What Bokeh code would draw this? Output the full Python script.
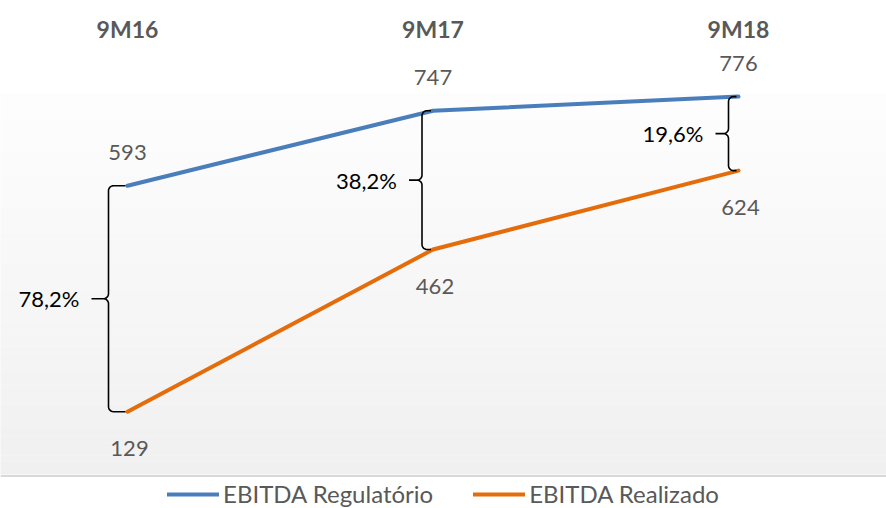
from bokeh.plotting import figure
from bokeh.models import Range1d, Span
from bokeh.embed import file_html
from bokeh.resources import INLINE
from bokeh.core.properties import value
import math

# ---- data ----
categories = ["9M16", "9M17", "9M18"]
ebitda_regulatorio = [593, 747, 776]
ebitda_realizado = [129, 462, 624]
gap_labels = ["78,2%", "38,2%", "19,6%"]
series_names = ["EBITDA Regulatório", "EBITDA Realizado"]

# ---- layout / style ----
W, H = 886, 508
X_PX = 305.5      # pixels per category step
Y_PX = 0.487      # pixels per value unit
ZERO_FIG_Y = 474  # figure-pixel row of value 0
FIRST_X = 127     # figure-pixel column of first category
y_end = ZERO_FIG_Y / Y_PX
y_start = -(H - ZERO_FIG_Y) / Y_PX
x_start = -FIRST_X / X_PX
x_end = x_start + W / X_PX

BLUE = "#4a7ebb"
ORANGE = "#e46c0a"
GREY_TXT = "#595959"
FONT = value("Lato")

p = figure(width=W, height=H, output_backend="svg", toolbar_location=None,
           x_range=Range1d(x_start, x_end), y_range=Range1d(y_start, y_end),
           min_border=0, min_border_left=0, min_border_right=0,
           min_border_top=0, min_border_bottom=0)
p.axis.visible = False
p.grid.visible = False
p.outline_line_color = None
p.background_fill_color = "white"
p.border_fill_color = "white"

# gradient plot-area background (stripes)
grad_top = (ZERO_FIG_Y - 93) / Y_PX
n = 60
lefts, rights, bottoms, tops, cols = [], [], [], [], []
for k in range(n):
    b = grad_top * k / n
    t = grad_top * (k + 1) / n
    f = (k + 0.5) / n  # 0 at bottom, 1 at top
    c = round(240 + 13.5 * f)
    lefts.append(x_start - 1); rights.append(x_end + 1)
    bottoms.append(b); tops.append(t + 0.5)
    cols.append("#%02x%02x%02x" % (c, c, c))
p.quad(left=lefts, right=rights, bottom=bottoms, top=tops,
       fill_color=cols, line_color=None)
p.add_layout(Span(location=-1.5 / Y_PX, dimension="width",
                  line_color="#d9d9d9", line_width=2))

xs = list(range(len(categories)))

# series
p.line(xs, ebitda_regulatorio, line_color=BLUE, line_width=4,
       line_cap="round", line_join="round", legend_label=series_names[0])
p.line(xs, ebitda_realizado, line_color=ORANGE, line_width=4,
       line_cap="round", line_join="round", legend_label=series_names[1])

# brackets
vx_off = [-19, -11, -10]
tip_len = [17, 13, 13]
r = 5
for i in xs:
    top_v = ebitda_regulatorio[i]
    bot_v = ebitda_realizado[i]
    mid_v = (top_v + bot_v) / 2
    vx = vx_off[i]
    pts = []  # (px_dx, value)
    pts.append((-2, top_v))
    for a in range(0, 91, 15):  # top hook arc
        ang = math.radians(a)
        pts.append((vx + r - r * math.sin(ang), top_v - (r - r * math.cos(ang)) / Y_PX))
    for a in range(0, 91, 15):  # into tip
        ang = math.radians(a)
        pts.append((vx - r + r * math.cos(ang), mid_v + (r - r * math.sin(ang)) / Y_PX))
    pts.append((vx - tip_len[i], mid_v))
    for a in range(90, -1, -15):
        ang = math.radians(a)
        pts.append((vx - r + r * math.cos(ang), mid_v - (r - r * math.sin(ang)) / Y_PX))
    for a in range(90, -1, -15):  # bottom hook arc
        ang = math.radians(a)
        pts.append((vx + r - r * math.sin(ang), bot_v + (r - r * math.cos(ang)) / Y_PX))
    pts.append((-2, bot_v))
    p.line([i + d / X_PX for d, _ in pts], [v for _, v in pts],
           line_color="black", line_width=1.6)
    p.text(x=[i + (vx - tip_len[i] - 12) / X_PX], y=[mid_v], text=[gap_labels[i]],
           text_font=FONT, text_font_size="22px", text_color="black",
           text_align="right", text_baseline="middle")

# value labels
p.text(x=xs, y=[v + 33 / Y_PX for v in ebitda_regulatorio],
       text=[str(v) for v in ebitda_regulatorio],
       text_font=FONT, text_font_size="22px", text_color=GREY_TXT,
       text_align="center", text_baseline="middle")
p.text(x=[i + 2 / X_PX for i in xs], y=[v - 37 / Y_PX for v in ebitda_realizado],
       text=[str(v) for v in ebitda_realizado],
       text_font=FONT, text_font_size="22px", text_color=GREY_TXT,
       text_align="center", text_baseline="middle")

# category labels at top
p.text(x=xs, y=[y_end - 28 / Y_PX] * len(xs), text=categories,
       text_font=FONT, text_font_size="23px", text_font_style="bold",
       text_color=GREY_TXT, text_align="center", text_baseline="middle")

# legend
lg = p.legend[0]
lg.location = "bottom_center"
lg.orientation = "horizontal"
lg.label_text_font = "Lato"
lg.label_text_font_size = "24px"
lg.label_text_color = GREY_TXT
lg.glyph_width = 52
lg.glyph_height = 20
lg.label_height = 20
lg.label_standoff = 4
lg.spacing = 40
lg.padding = 0
lg.margin = 0
lg.background_fill_alpha = 0
lg.border_line_alpha = 0

open("out.html", "w").write(file_html(p, INLINE))
